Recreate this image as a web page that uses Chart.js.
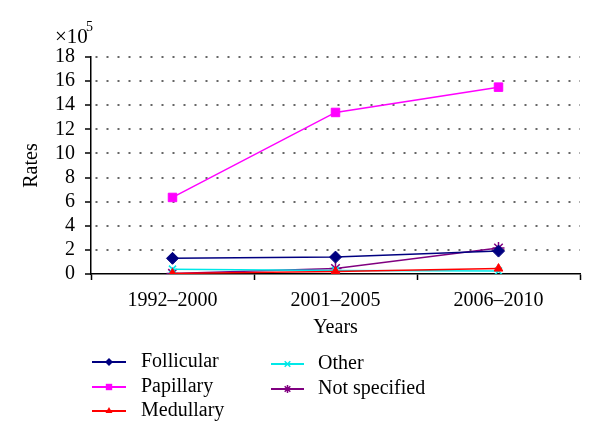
<!DOCTYPE html>
<html>
<head>
<meta charset="utf-8">
<script src="https://cdn.jsdelivr.net/npm/chart.js@4"></script>
<style>
html,body{margin:0;padding:0;background:#fff;}
#wrap{position:relative;width:600px;height:444px;}
</style>
</head>
<body>
<div id="wrap"><canvas id="c" width="600" height="444"></canvas></div>
<script>
const categories = ["1992\u20132000", "2001\u20132005", "2006\u20132010"];
const follicular = [1.3, 1.4, 1.9];
const papillary = [6.35, 13.4, 15.5];
const medullary = [0.05, 0.2, 0.45];
const other = [0.4, 0.3, 0.25];
const notSpecified = [0.05, 0.45, 2.15];
const yTicks = [0, 2, 4, 6, 8, 10, 12, 14, 16, 18];

const FONT = "'Liberation Serif', 'DejaVu Serif', serif";

const series = [
  {label: "Follicular", data: follicular, color: "#000080", style: "rectRot", r: 6},
  {label: "Papillary", data: papillary, color: "#ff00ff", style: "rect", r: 6},
  {label: "Medullary", data: medullary, color: "#ff0000", style: "triangle", r: 5},
  {label: "Other", data: other, color: "#00e8e8", style: "crossRot", r: 5},
  {label: "Not specified", data: notSpecified, color: "#800080", style: "star", r: 6}
];

function drawMarker(ctx, style, x, y, r, color) {
  ctx.save();
  ctx.fillStyle = color; ctx.strokeStyle = color; ctx.lineWidth = 1.5;
  ctx.beginPath();
  if (style === "rectRot") {
    ctx.moveTo(x, y - r); ctx.lineTo(x + r, y); ctx.lineTo(x, y + r); ctx.lineTo(x - r, y); ctx.closePath(); ctx.fill();
  } else if (style === "rect") {
    ctx.rect(x - r * 0.8, y - r * 0.8, r * 1.6, r * 1.6); ctx.fill();
  } else if (style === "triangle") {
    ctx.moveTo(x, y - r); ctx.lineTo(x + r * 0.87, y + r * 0.5); ctx.lineTo(x - r * 0.87, y + r * 0.5); ctx.closePath(); ctx.fill();
  } else if (style === "crossRot") {
    const d = r * 0.7;
    ctx.moveTo(x - d, y - d); ctx.lineTo(x + d, y + d); ctx.moveTo(x + d, y - d); ctx.lineTo(x - d, y + d); ctx.stroke();
  } else if (style === "star") {
    const d = r * 0.7;
    ctx.moveTo(x - d, y - d); ctx.lineTo(x + d, y + d); ctx.moveTo(x + d, y - d); ctx.lineTo(x - d, y + d);
    ctx.moveTo(x, y - r); ctx.lineTo(x, y + r); ctx.moveTo(x - r, y); ctx.lineTo(x + r, y); ctx.stroke();
  }
  ctx.restore();
}

const extras = {
  id: "extras",
  afterDraw(chart) {
    const ctx = chart.ctx;
    ctx.save();
    ctx.fillStyle = "#000";
    ctx.textBaseline = "alphabetic";
    ctx.textAlign = "left";
    ctx.font = "21px " + FONT;
    ctx.fillText("\u00d710", 55, 43);
    ctx.font = "14px " + FONT;
    ctx.fillText("5", 86, 31);
    const cols = [
      {x1: 92, x2: 126, tx: 141, rows: [[0, 362], [1, 387], [2, 411]]},
      {x1: 271, x2: 304, tx: 318, rows: [[3, 364], [4, 389]]}
    ];
    ctx.font = "20px " + FONT;
    ctx.textBaseline = "middle";
    cols.forEach(c => {
      c.rows.forEach(([i, y]) => {
        const s = series[i];
        ctx.strokeStyle = s.color; ctx.lineWidth = 2;
        ctx.beginPath(); ctx.moveTo(c.x1, y); ctx.lineTo(c.x2, y); ctx.stroke();
        drawMarker(ctx, s.style, (c.x1 + c.x2) / 2, y, 4, s.color);
        ctx.fillStyle = "#000";
        ctx.fillText(s.label, c.tx, y);
      });
    });
    ctx.restore();
  }
};

new Chart(document.getElementById("c"), {
  type: "line",
  data: {
    labels: categories,
    datasets: series.map(s => ({
      label: s.label,
      data: s.data,
      borderColor: s.color,
      backgroundColor: s.color,
      borderWidth: 1.5,
      pointStyle: s.style,
      pointRadius: s.r,
      pointBorderWidth: (s.style === "crossRot" || s.style === "star") ? 1.5 : 1,
      pointBorderColor: s.color,
      pointBackgroundColor: s.color,
      tension: 0,
      fill: false
    }))
  },
  options: {
    responsive: false,
    animation: false,
    events: [],
    layout: {padding: {left: 16, top: 57, right: 20, bottom: 100}},
    plugins: {legend: {display: false}, tooltip: {enabled: false}},
    scales: {
      x: {
        type: "category",
        offset: true,
        grid: {display: true, drawOnChartArea: false, drawTicks: true, tickLength: 6, color: "#000", tickColor: "#000", tickWidth: 1.5, offset: true},
        border: {display: true, color: "#000", width: 1.5},
        ticks: {color: "#000", font: {family: FONT, size: 20}, padding: 9, maxRotation: 0, autoSkip: false},
        title: {display: true, text: "Years", color: "#000", font: {family: FONT, size: 20}, padding: {top: 4, bottom: 4}},
        afterFit(scale) { scale.height = 70; }
      },
      y: {
        min: yTicks[0], max: yTicks[yTicks.length - 1],
        grid: {display: true, drawOnChartArea: true, drawTicks: true, tickLength: 6, color: (ctx) => ctx.tick && ctx.tick.value === 0 ? "rgba(0,0,0,0)" : "#666", lineWidth: 2, tickColor: "#000", tickWidth: 1.5, tickBorderDash: []},
        border: {display: true, color: "#000", width: 1.5, dash: [2, 9], dashOffset: -4},
        ticks: {color: "#000", font: {family: FONT, size: 20}, padding: 10, stepSize: 2, autoSkip: false, callback: v => String(v)},
        title: {display: true, text: "Rates", color: "#000", font: {family: FONT, size: 20}, padding: {top: 4, bottom: 4}},
        afterFit(scale) { scale.width = 75; }
      }
    }
  },
  plugins: [extras]
});
</script>
</body>
</html>
